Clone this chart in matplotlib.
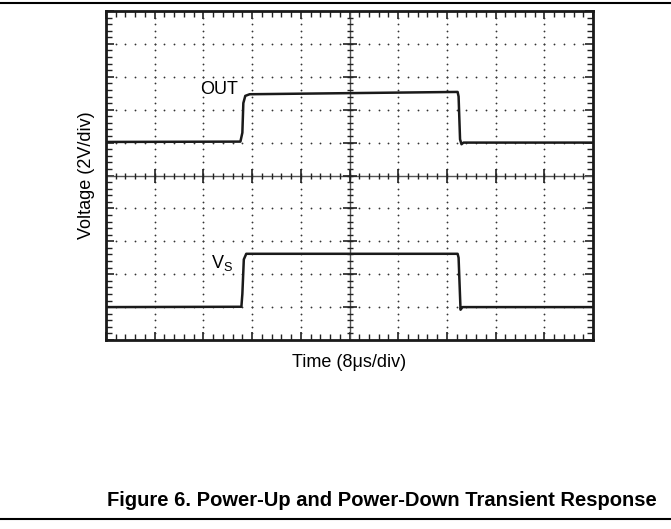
import matplotlib.pyplot as plt
from matplotlib.lines import Line2D
import numpy as np

plt.rcParams['font.family'] = ['Liberation Sans', 'DejaVu Sans']

# traces (x in time divisions, y in voltage divisions)
out_t = [0, 2.76, 2.80, 2.82, 2.86, 2.95, 7.22, 7.24, 7.27, 7.30, 7.34, 10]
out_v = [6.02, 6.03, 6.3, 7.2, 7.42, 7.47, 7.54, 7.4, 6.1, 5.95, 6.0, 6.0]

vs_t = [0, 2.78, 2.80, 2.83, 2.88, 7.22, 7.24, 7.28, 7.32, 10]
vs_v = [1.0, 1.01, 1.4, 2.45, 2.62, 2.62, 2.5, 0.92, 1.0, 1.0]

n_div = 10
n_sub = 5

fig = plt.figure(figsize=(6.71, 5.29), dpi=100)
ax = fig.add_axes([106 / 671, 1 - 340 / 529, 487 / 671, 329 / 529])
ax.set_xlim(0, n_div)
ax.set_ylim(0, n_div)

# dotted graticule
major = np.arange(1, n_div)
minor = np.arange(0, n_div * n_sub + 1) / n_sub
for m in major:
    if m == 5:
        continue
    ax.plot(np.full(len(minor), m), minor, ls='none', marker='o', ms=1.3, mew=0, color='#333333')
    ax.plot(minor, np.full(len(minor), m), ls='none', marker='o', ms=1.3, mew=0, color='#333333')

# centre axes with tick marks
ax.axhline(5, color='#555555', lw=1.0)
ax.axvline(5, color='#555555', lw=1.0)
ax.plot(minor, np.full(len(minor), 5), ls='none', marker='|', ms=5, mew=1.0, color='#222222')
ax.plot(np.full(len(minor), 5), minor, ls='none', marker='_', ms=5, mew=1.0, color='#222222')
ax.plot(major, np.full(len(major), 5), ls='none', marker='|', ms=10, mew=1.2, color='#222222')
ax.plot(np.full(len(major), 5), major, ls='none', marker='_', ms=10, mew=1.2, color='#222222')

# traces
ax.plot(out_t, out_v, color='#1a1a1a', lw=1.8, solid_joinstyle='round')
ax.plot(vs_t, vs_v, color='#1a1a1a', lw=1.8, solid_joinstyle='round')

ax.text(2.72, 7.6, 'OUT', fontsize=13, ha='right', va='center')
ax.text(2.6, 2.35, r'V$_\mathregular{S}$', fontsize=13, ha='right', va='center')

# edge ticks
ax.set_xticks(np.arange(0, n_div + 1))
ax.set_yticks(np.arange(0, n_div + 1))
ax.set_xticks(minor, minor=True)
ax.set_yticks(minor, minor=True)
ax.tick_params(which='both', direction='in', top=True, right=True,
               labelbottom=False, labelleft=False, color='#222222')
ax.tick_params(which='major', length=6, width=1.2)
ax.tick_params(which='minor', length=4, width=1.0)
for s in ax.spines.values():
    s.set_linewidth(2.0)
    s.set_color('#1a1a1a')

ax.set_xlabel('Time (8\u03bcs/div)', fontsize=13, labelpad=10)
ax.set_ylabel('Voltage (2V/div)', fontsize=13, labelpad=8)

# page rules and caption
fig.add_artist(Line2D([0, 1], [1 - 3 / 529, 1 - 3 / 529], color='black', lw=1.5))
fig.add_artist(Line2D([0, 1], [1 - 519 / 529, 1 - 519 / 529], color='black', lw=1.5))
fig.text(382 / 671, 1 - 500 / 529, 'Figure 6. Power-Up and Power-Down Transient Response',
         fontsize=14.5, fontweight='bold', ha='center', va='center')

fig.savefig('out.png', dpi=100)
